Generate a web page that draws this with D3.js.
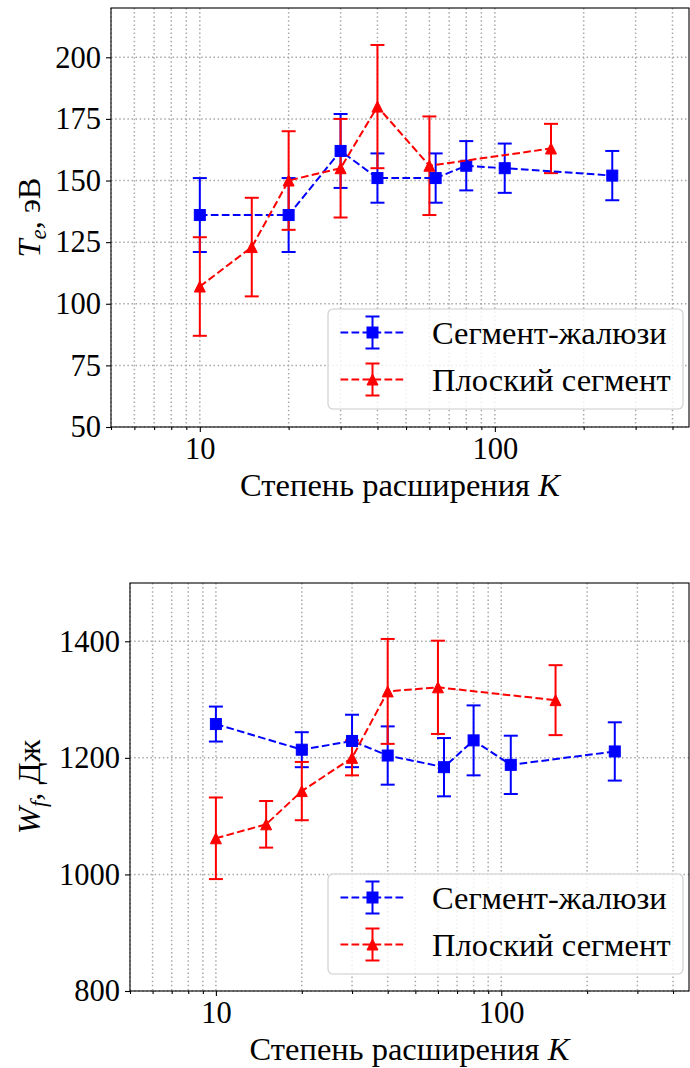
<!DOCTYPE html>
<html><head><meta charset="utf-8">
<script src="https://cdn.jsdelivr.net/npm/d3@7"></script>
<style>
body{margin:0;background:#fff}
svg text{font-family:"Liberation Serif","Tinos","Times New Roman","Nimbus Roman","DejaVu Serif",serif !important;fill:#000}
</style>
</head><body><svg id="c" width="690" height="1068"></svg>
<script>
// ---- data ----
const seriesNames = ["Сегмент-жалюзи", "Плоский сегмент"];
const blueK = [10, 20, 30, 40, 63, 80, 108, 250];
const redK  = [10, 15, 20, 30, 40, 60, 155];
const blueTe    = [136, 136, 162, 151, 151, 156, 155, 152];
const blueTeErr = [15, 15, 15, 10, 10, 10, 10, 10];
const redTe     = [107, 123, 150, 155, 180, 156, 163];
const redTeErr  = [20, 20, 20, 20, 25, 20, 10];
const blueWf    = [1258, 1214, 1229, 1204, 1184, 1230, 1188, 1211];
const blueWfErr = [30, 30, 45, 50, 50, 60, 50, 50];
const redWf     = [1062, 1086, 1143, 1200, 1314, 1321, 1299];
const redWfErr  = [70, 40, 50, 30, 90, 80, 60];
const xDomain = [5, 455];
const xMajorTicks = [10, 100];
const teTicks = [50, 75, 100, 125, 150, 175, 200];
const wfTicks = [800, 1000, 1200, 1400];
const teDomain = [50, 220];
const wfDomain = [800, 1500];

const FS = 30.5;   // tick labels
const LFS = 32.5;  // axis labels and legend
const FONT = '"Liberation Serif","Tinos","Times New Roman","Nimbus Roman","DejaVu Serif",serif';
const svg = d3.select("#c");

function minorTicks(dom){
  const out=[];
  for(let d=1; d<=1000; d*=10){
    for(let m=2; m<10; m++){
      const v=m*d;
      if(v>=dom[0]-1e-9 && v<=dom[1]+1e-9) out.push(v);
    }
  }
  return out;
}

function panel(cfg){
  const g = svg.append("g").attr("font-family", FONT);
  const x = d3.scaleLog().domain(xDomain).range([cfg.left, cfg.right]);
  const y = d3.scaleLinear().domain(cfg.yDomain).range([cfg.bottom, cfg.top]);
  const minors = minorTicks(xDomain);
  const gridStyle = s => s.attr("stroke","#a8a8a8").attr("stroke-width",1.5).attr("stroke-dasharray","1.5,2.6");

  // grid
  const grid = g.append("g");
  grid.selectAll("line.v").data(minors.concat(xMajorTicks)).join("line")
    .attr("x1",d=>x(d)).attr("x2",d=>x(d)).attr("y1",cfg.top).attr("y2",cfg.bottom).call(gridStyle);
  grid.selectAll("line.h").data(cfg.yTicks).join("line")
    .attr("x1",cfg.left).attr("x2",cfg.right).attr("y1",d=>y(d)).attr("y2",d=>y(d)).call(gridStyle);

  // axes
  const xAxis = d3.axisBottom(x).tickValues(xMajorTicks).tickFormat(d3.format("d")).tickSize(5).tickPadding(5);
  const xAxisMinor = d3.axisBottom(x).tickValues(minors).tickFormat("").tickSize(3);
  const yAxis = d3.axisLeft(y).tickValues(cfg.yTicks).tickFormat(d3.format("d")).tickSize(5).tickPadding(5);
  const styleAx = a => { a.attr("font-family", FONT).attr("font-size", FS);
    a.select(".domain").remove(); a.selectAll("line").attr("stroke","#000").attr("stroke-width",1.1);
    a.selectAll("text").attr("fill","#000"); };
  g.append("g").attr("transform",`translate(0,${cfg.bottom})`).call(xAxis).call(styleAx);
  g.append("g").attr("transform",`translate(0,${cfg.bottom})`).call(xAxisMinor).call(styleAx);
  g.append("g").attr("transform",`translate(${cfg.left},0)`).call(yAxis).call(styleAx);

  const series = [
    {k: blueK, v: cfg.blue, e: cfg.blueErr, color: "#0000ff", marker: "s"},
    {k: redK,  v: cfg.red,  e: cfg.redErr,  color: "#ff0000", marker: "^"}
  ];
  const pts = s => s.k.map((k,i)=>({k, v:s.v[i], e:s.e[i]}));
  const cap = 7;

  // error bars (below all data lines)
  series.forEach(s=>{
    const eg = g.append("g").attr("stroke", s.color).attr("stroke-width", 2);
    const d = pts(s);
    eg.selectAll("line.bar").data(d).join("line")
      .attr("x1",p=>x(p.k)).attr("x2",p=>x(p.k)).attr("y1",p=>y(p.v-p.e)).attr("y2",p=>y(p.v+p.e));
    eg.selectAll("line.ct").data(d).join("line")
      .attr("x1",p=>x(p.k)-cap).attr("x2",p=>x(p.k)+cap).attr("y1",p=>y(p.v+p.e)).attr("y2",p=>y(p.v+p.e));
    eg.selectAll("line.cb").data(d).join("line")
      .attr("x1",p=>x(p.k)-cap).attr("x2",p=>x(p.k)+cap).attr("y1",p=>y(p.v-p.e)).attr("y2",p=>y(p.v-p.e));
  });
  // data lines + markers
  const line = d3.line().x(p=>x(p.k)).y(p=>y(p.v));
  series.forEach(s=>{
    const d = pts(s);
    g.append("path").attr("d", line(d)).attr("fill","none").attr("stroke",s.color)
      .attr("stroke-width",2).attr("stroke-dasharray","7.7,3.3");
    drawMarkers(g, d.map(p=>[x(p.k), y(p.v)]), s.marker, s.color);
  });

  // spines
  g.append("rect").attr("x",cfg.left).attr("y",cfg.top).attr("width",cfg.right-cfg.left)
    .attr("height",cfg.bottom-cfg.top).attr("fill","none").attr("stroke","#000").attr("stroke-width",1.1);

  // x label
  const xl = g.append("text").attr("x",(cfg.left+cfg.right)/2).attr("y",cfg.bottom+69)
    .attr("text-anchor","middle").attr("font-size",LFS);
  xl.append("tspan").text("Степень расширения ");
  xl.append("tspan").attr("font-style","italic").text("K");

  // y label
  const yl = g.append("text").attr("transform",`translate(${cfg.ylabX},${(cfg.top+cfg.bottom)/2}) rotate(-90)`)
    .attr("text-anchor","middle").attr("font-size",LFS);
  yl.append("tspan").attr("font-style","italic").text(cfg.ylabSym);
  yl.append("tspan").attr("font-style","italic").attr("dy",6).attr("font-size",LFS*0.7).text(cfg.ylabSub);
  yl.append("tspan").attr("dy",-6).text(cfg.ylabUnit);

  // legend
  const lx = cfg.legX, ly = cfg.legY, lw = 355, lh = 100;
  const lg = g.append("g");
  lg.append("rect").attr("x",lx).attr("y",ly).attr("width",lw).attr("height",lh).attr("rx",5)
    .attr("fill","#fff").attr("fill-opacity",0.8).attr("stroke","#cccccc").attr("stroke-width",1.1);
  series.forEach((s,i)=>{
    const ry = ly + 23.5 + i*47;
    lg.append("line").attr("x1",lx+12.5).attr("x2",lx+77).attr("y1",ry).attr("y2",ry)
      .attr("stroke",s.color).attr("stroke-width",2).attr("stroke-dasharray","7.7,3.3");
    const mx = lx+44.5;
    lg.append("line").attr("x1",mx).attr("x2",mx).attr("y1",ry-16).attr("y2",ry+16).attr("stroke",s.color).attr("stroke-width",2);
    [ry-16, ry+16].forEach(cy=>lg.append("line").attr("x1",mx-cap).attr("x2",mx+cap).attr("y1",cy).attr("y2",cy)
      .attr("stroke",s.color).attr("stroke-width",2));
    drawMarkers(lg, [[mx, ry]], s.marker, s.color);
    lg.append("text").attr("x",lx+104).attr("y",ry).attr("dy","0.34em").attr("font-size",LFS).text(seriesNames[i]);
  });
}

function drawMarkers(g, xy, type, color){
  const ms = 11, h = ms/2;
  if(type==="s"){
    g.selectAll(null).data(xy).join("rect").attr("x",d=>d[0]-h).attr("y",d=>d[1]-h)
      .attr("width",ms).attr("height",ms).attr("fill",color).attr("stroke",color).attr("stroke-width",1);
  } else {
    g.selectAll(null).data(xy).join("path")
      .attr("d",d=>`M${d[0]},${d[1]-h}L${d[0]-h},${d[1]+h}L${d[0]+h},${d[1]+h}Z`)
      .attr("fill",color).attr("stroke",color).attr("stroke-width",1);
  }
}

panel({left:111, right:689, top:8, bottom:427, yDomain:teDomain, yTicks:teTicks,
  blue:blueTe, blueErr:blueTeErr, red:redTe, redErr:redTeErr,
  ylabX:40, ylabSym:"T", ylabSub:"e", ylabUnit:", эВ", legX:328, legY:309});
panel({left:130, right:689, top:583, bottom:991, yDomain:wfDomain, yTicks:wfTicks,
  blue:blueWf, blueErr:blueWfErr, red:redWf, redErr:redWfErr,
  ylabX:40, ylabSym:"W", ylabSub:"f", ylabUnit:", Дж", legX:328, legY:874});
</script>
</body></html>
